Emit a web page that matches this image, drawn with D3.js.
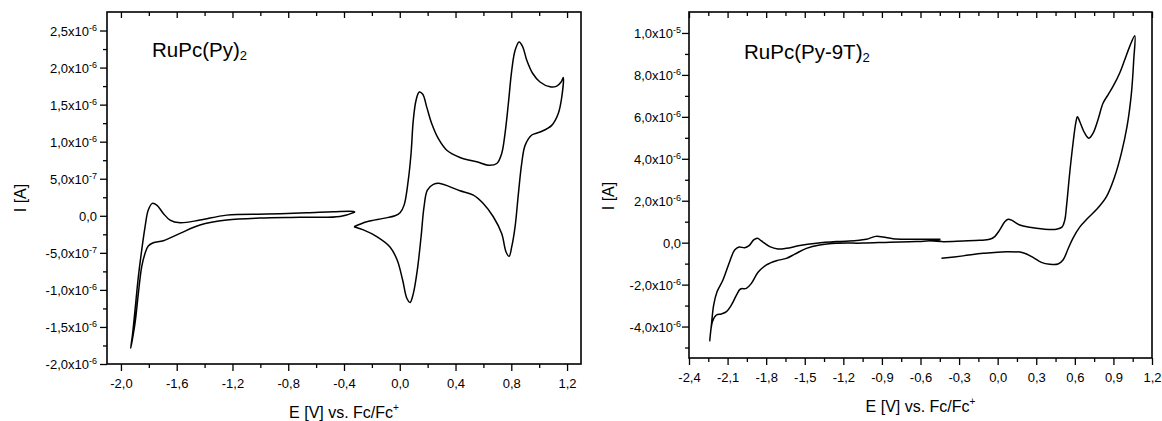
<!DOCTYPE html>
<html>
<head>
<meta charset="utf-8">
<script src="https://cdn.jsdelivr.net/npm/d3@7"></script>
<style>
  body { margin: 0; background: #fff; }
  svg { display: block; font-family: "Liberation Sans", Arial, sans-serif; }
</style>
</head>
<body>
<svg id="chart" width="1162" height="421"></svg>
<script>

// ---- RuPc(Py)2 : [E (V vs Fc/Fc+), I (uA)] ----
const pyNegLoop = [
	[-0.321, 0.05], [-0.429, -0.01], [-0.716, -0.02], [-1.003, -0.03], [-1.241, -0.058],
	[-1.433, -0.125], [-1.576, -0.237], [-1.696, -0.337], [-1.768, -0.364], [-1.804, -0.408],
	[-1.827, -0.507], [-1.851, -0.687], [-1.875, -1.046], [-1.899, -1.45], [-1.930, -1.787],
	[-1.916, -1.585], [-1.899, -1.271], [-1.875, -0.822], [-1.851, -0.462], [-1.827, -0.148],
	[-1.804, 0.077], [-1.775, 0.167], [-1.743, 0.144], [-1.696, 0.032], [-1.648, -0.058],
	[-1.576, -0.094], [-1.433, -0.058], [-1.241, 0.009], [-0.954, 0.023], [-0.667, 0.04],
	[-0.477, 0.054], [-0.333, 0.059], [-0.321, 0.05]
];

const pyPosLoop = [
	[-0.328, -0.148], [-0.237, -0.08], [-0.118, -0.035], [-0.034, 0.0], [0.002, 0.04],
	[0.031, 0.144], [0.061, 0.48], [0.081, 0.84], [0.097, 1.29], [0.117, 1.56],
	[0.140, 1.67], [0.165, 1.64], [0.193, 1.47], [0.229, 1.245], [0.277, 1.04],
	[0.337, 0.885], [0.432, 0.787], [0.552, 0.728], [0.635, 0.683], [0.696, 0.706],
	[0.731, 0.84], [0.755, 1.11], [0.779, 1.515], [0.803, 1.96], [0.827, 2.23],
	[0.856, 2.345], [0.882, 2.28], [0.911, 2.10], [0.954, 1.92], [1.006, 1.805],
	[1.078, 1.74], [1.126, 1.75], [1.157, 1.805], [1.173, 1.865],
	[1.162, 1.60], [1.137, 1.38], [1.090, 1.22], [1.006, 1.13], [0.947, 1.09],
	[0.899, 0.95], [0.875, 0.71], [0.851, 0.30], [0.827, -0.15], [0.803, -0.42],
	[0.784, -0.55], [0.762, -0.485], [0.731, -0.24], [0.671, -0.013], [0.599, 0.167],
	[0.528, 0.28], [0.432, 0.337], [0.361, 0.39], [0.289, 0.437], [0.241, 0.423],
	[0.198, 0.346], [0.174, 0.12], [0.153, -0.28], [0.126, -0.73], [0.097, -1.05],
	[0.074, -1.17], [0.050, -1.11], [0.021, -0.87], [-0.018, -0.60], [-0.070, -0.42],
	[-0.165, -0.28], [-0.261, -0.19], [-0.328, -0.148]
];

// ---- RuPc(Py-9T)2 ----
const ptNegLoop = [
	[-0.445, 0.16], [-0.580, 0.16], [-0.709, 0.16], [-0.814, 0.19], [-0.891, 0.27],
	[-0.948, 0.30], [-1.021, 0.16], [-1.098, 0.10], [-1.254, 0.05], [-1.409, -0.03],
	[-1.539, -0.14], [-1.643, -0.27], [-1.708, -0.30], [-1.772, -0.19], [-1.837, 0.08],
	[-1.868, 0.21], [-1.897, 0.13], [-1.933, -0.14], [-1.967, -0.24], [-2.011, -0.21],
	[-2.045, -0.35], [-2.084, -0.91], [-2.136, -1.78], [-2.182, -2.34], [-2.208, -2.97],
	[-2.226, -3.93], [-2.239, -4.69],
	[-2.218, -3.77], [-2.187, -3.45], [-2.148, -3.40], [-2.109, -3.29], [-2.070, -2.97],
	[-2.031, -2.50], [-2.000, -2.21], [-1.954, -2.18], [-1.915, -1.94], [-1.863, -1.41],
	[-1.798, -1.06], [-1.720, -0.86], [-1.643, -0.75], [-1.578, -0.55], [-1.487, -0.27],
	[-1.384, -0.11], [-1.254, -0.03], [-1.047, -0.02], [-0.839, 0.02], [-0.632, 0.05],
	[-0.445, 0.13]
];

const ptPosLoop = [
	[-0.528, 0.10], [-0.437, 0.05], [-0.269, 0.08], [-0.139, 0.11], [-0.062, 0.16],
	[-0.023, 0.29], [0.016, 0.61], [0.055, 1.00], [0.081, 1.12], [0.115, 1.05],
	[0.172, 0.84], [0.249, 0.73], [0.353, 0.65], [0.457, 0.64], [0.500, 0.74],
	[0.522, 1.08], [0.535, 1.72], [0.560, 3.31], [0.586, 4.74], [0.607, 5.70],
	[0.620, 6.01], [0.638, 5.78], [0.677, 5.22], [0.710, 4.98], [0.742, 5.22],
	[0.780, 5.86], [0.819, 6.65], [0.858, 7.05], [0.897, 7.45], [0.949, 8.09],
	[0.988, 8.72], [1.027, 9.36], [1.066, 9.87],
	[1.058, 8.72], [1.040, 7.13], [1.006, 5.54], [0.962, 4.27], [0.910, 3.15],
	[0.846, 2.20], [0.768, 1.58], [0.700, 1.16], [0.638, 0.74], [0.586, 0.22],
	[0.547, -0.30], [0.508, -0.83], [0.469, -1.02],
	[0.405, -1.03], [0.340, -0.94], [0.275, -0.70], [0.197, -0.48], [0.068, -0.43],
	[-0.114, -0.51], [-0.269, -0.63], [-0.437, -0.745]
];

// tick values
const pyXTicks = [-2.0, -1.6, -1.2, -0.8, -0.4, 0.0, 0.4, 0.8, 1.2];
const pyYTicks = [-2.0e-6, -1.5e-6, -1.0e-6, -5.0e-7, 0, 5.0e-7, 1.0e-6, 1.5e-6, 2.0e-6, 2.5e-6];
const ptXTicks = [-2.4, -2.1, -1.8, -1.5, -1.2, -0.9, -0.6, -0.3, 0.0, 0.3, 0.6, 0.9, 1.2];
const ptYTicks = [-4.0e-6, -2.0e-6, 0, 2.0e-6, 4.0e-6, 6.0e-6, 8.0e-6, 1.0e-5];

const svg = d3.select('#chart');

// midpoints between majors = minor ticks
function minors(ticks, domain) {
	const step = ticks[1] - ticks[0];
	const out = [];
	for (let i = -1; i < ticks.length; i++) {
		const v = ticks[0] + (i + 0.5) * step;
		if (v > domain[0] + 1e-12 && v < domain[1] - 1e-12) out.push(v);
	}
	return out;
}

function comma(v) {
	return v.toFixed(1).replace('.', ',');
}

function sciLabel(sel) {
	sel.each(function(d) {
		const t = d3.select(this).text(null);
		if (d === 0) { t.text('0,0'); return; }
		const e = Math.floor(Math.log10(Math.abs(d)) + 1e-9);
		const m = d / Math.pow(10, e);
		t.append('tspan').text(comma(m) + 'x10');
		t.append('tspan').attr('font-size', 9).attr('dy', -5).text(e);
	});
}

function drawPanel(p) {
	const x = d3.scaleLinear().domain(p.xDomain).range([p.left, p.right]);
	const y = d3.scaleLinear().domain(p.yDomain).range([p.bottom, p.top]);
	const g = svg.append('g');

	const xMinor = minors(p.xTicks, p.xDomain);
	const yMinor = minors(p.yTicks, p.yDomain);

	const axes = g.append('g').attr('stroke-width', 1.3);

	// bottom
	axes.append('g').attr('transform', `translate(0,${p.bottom})`)
		.call(d3.axisBottom(x).tickValues(xMinor).tickSize(4).tickFormat(''));
	const xb = axes.append('g').attr('transform', `translate(0,${p.bottom})`)
		.call(d3.axisBottom(x).tickValues(p.xTicks).tickSize(7).tickPadding(8).tickFormat(comma));
	// top, ticks pointing in
	axes.append('g').attr('transform', `translate(0,${p.top})`)
		.call(d3.axisTop(x).tickValues(xMinor).tickSize(-4).tickFormat(''));
	axes.append('g').attr('transform', `translate(0,${p.top})`)
		.call(d3.axisTop(x).tickValues(p.xTicks).tickSize(-6).tickFormat(''));
	// left
	axes.append('g').attr('transform', `translate(${p.left},0)`)
		.call(d3.axisLeft(y).tickValues(yMinor).tickSize(4).tickFormat(''));
	const yl = axes.append('g').attr('transform', `translate(${p.left},0)`)
		.call(d3.axisLeft(y).tickValues(p.yTicks).tickSize(7).tickPadding(p.yPad).tickFormat(''));

	axes.selectAll('.domain').remove();
	axes.selectAll('g').attr('font-family', null).attr('font-size', 13);
	xb.selectAll('.tick text').attr('fill', '#000');
	yl.selectAll('.tick text').attr('fill', '#000').attr('dy', '0.36em').call(sciLabel);

	g.append('rect')
		.attr('x', p.left).attr('y', p.top)
		.attr('width', p.right - p.left).attr('height', p.bottom - p.top)
		.attr('fill', 'none').attr('stroke', '#000').attr('stroke-width', 1.6);

	const line = d3.line()
		.x(d => x(d[0]))
		.y(d => y(d[1] * 1e-6))
		.curve(d3.curveCatmullRom.alpha(0.5));

	g.selectAll('path.cv')
		.data(p.curves)
		.enter().append('path')
		.attr('class', 'cv')
		.attr('d', line)
		.attr('fill', 'none')
		.attr('stroke', '#000')
		.attr('stroke-width', 1.5)
		.attr('stroke-linejoin', 'round');

	// titles
	const t = g.append('text').attr('x', p.titleX).attr('y', p.titleY).attr('font-size', 20.5);
	t.append('tspan').text(p.title);
	t.append('tspan').attr('font-size', 13).attr('dy', 3).text('2');

	const xt = g.append('text')
		.attr('x', (p.left + p.right) / 2).attr('y', p.xTitleY)
		.attr('text-anchor', 'middle').attr('font-size', 16);
	xt.append('tspan').text('E [V] vs. Fc/Fc');
	xt.append('tspan').attr('font-size', 10).attr('dy', -7).text('+');

	g.append('text')
		.attr('transform', `translate(${p.yTitleX},${p.yTitleY}) rotate(-90)`)
		.attr('text-anchor', 'middle').attr('font-size', 16)
		.text('I [A]');
}

drawPanel({
	left: 107, right: 581, top: 12, bottom: 364,
	xDomain: [-2.1, 1.3], yDomain: [-2.0e-6, 2.75e-6],
	xTicks: pyXTicks, yTicks: pyYTicks, yPad: 3,
	curves: [pyNegLoop, pyPosLoop],
	title: 'RuPc(Py)', titleX: 152, titleY: 57,
	xTitleY: 418, yTitleX: 26, yTitleY: 198
});

drawPanel({
	left: 689, right: 1152, top: 12, bottom: 358,
	xDomain: [-2.4, 1.2], yDomain: [-5.5e-6, 1.1e-5],
	xTicks: ptXTicks, yTicks: ptYTicks, yPad: 1,
	curves: [ptNegLoop, ptPosLoop],
	title: 'RuPc(Py-9T)', titleX: 744, titleY: 59,
	xTitleY: 412, yTitleX: 614, yTitleY: 196
});

</script>
</body>
</html>
